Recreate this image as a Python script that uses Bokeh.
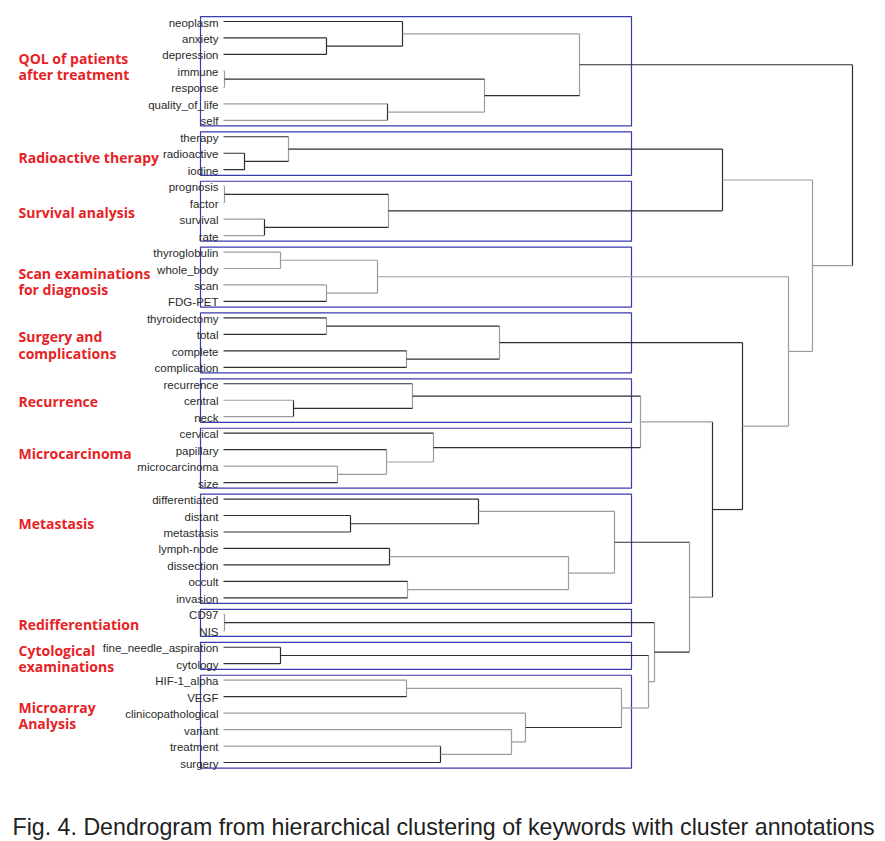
from bokeh.plotting import figure
from bokeh.models import Range1d, ColumnDataSource, Label
from bokeh.core.properties import value
from bokeh.embed import file_html
from bokeh.resources import INLINE

# ---------------- data ----------------
leaves = ["neoplasm", "anxiety", "depression", "immune", "response", "quality_of_life", "self",
          "therapy", "radioactive", "iodine",
          "prognosis", "factor", "survival", "rate",
          "thyroglobulin", "whole_body", "scan", "FDG-PET",
          "thyroidectomy", "total", "complete", "complication",
          "recurrence", "central", "neck",
          "cervical", "papillary", "microcarcinoma", "size",
          "differentiated", "distant", "metastasis", "lymph-node", "dissection", "occult", "invasion",
          "CD97", "NIS",
          "fine_needle_aspiration", "cytology",
          "HIF-1_alpha", "VEGF", "clinicopathological", "variant", "treatment", "surgery"]

# hclust-style merge table: negative = leaf (1-based), positive = earlier merge (1-based)
merge_left = [-2, -1, -4, -6, 3, 2, -9, -8, -11, -13, 9, 8, -15, -17, 13, -19, -21, 16,
              -24, -23, -28, -27, -26, 20, -31, -30, -33, -35, 27, 26, -37, -39, -41, -45,
              -44, -43, 33, 32, 31, 30, 24, 18, 15, 12, 6]
merge_right = [-3, 1, -5, -7, 4, 5, -10, 7, -12, -14, 10, 11, -16, -18, 14, -20, -22, 17,
               -25, 19, -29, 21, 22, 23, -32, 25, -34, -36, 28, 29, -38, -40, -42, -46,
               34, 35, 36, 37, 38, 39, 40, 41, 42, 43, 44]
merge_height = [103, 179, 1, 164, 261, 356, 21, 65, 1, 41, 165, 499, 57, 103, 154, 103, 183, 276,
                70, 189, 114, 163, 210, 417, 127, 255, 166, 184, 345, 391, 1, 57, 183, 217,
                288, 302, 398, 425, 431, 466, 489, 519, 565, 589, 629]

cluster_names = ["QOL of patients\nafter treatment", "Radioactive therapy", "Survival analysis",
                 "Scan examinations\nfor diagnosis", "Surgery and\ncomplications", "Recurrence",
                 "Microcarcinoma", "Metastasis", "Redifferentiation",
                 "Cytological\nexaminations", "Microarray\nAnalysis"]
cluster_first = [0, 7, 10, 14, 18, 22, 25, 29, 36, 38, 40]
cluster_last = [6, 9, 13, 17, 21, 24, 28, 35, 37, 39, 45]

caption = "Fig. 4. Dendrogram from hierarchical clustering of keywords with cluster annotations"

# ---------------- style ----------------
DARK = "#2e2e2e"
LIGHT = "#9c9c9c"
light_links = {-4, -5, -6, -7, -11, -12, -13, -14, -15, -16, -17, -24, -25, -28, -37, -38,
               -41, -43, -44, -45, 2, 4, 12, 13, 14, 15, 21, 22, 24, 26, 27, 28, 29, 33,
               34, 35, 37, 38, 40, 42, 43, 44}
light_joins = {3, 5, 6, 8, 9, 11, 13, 14, 15, 16, 17, 18, 20, 21, 22, 23, 24, 28, 29, 30,
               31, 33, 35, 36, 37, 38, 39, 40, 43, 44}
label_rows = [2.73, 8.26, 11.6, 15.79, 19.65, 23.08, 26.23, 30.49, 36.62, 38.68, 42.14]

# ---------------- layout of the tree ----------------
ypos, hgt = {}, {}
for i in range(len(leaves)):
    ypos[-(i + 1)] = float(i)
    hgt[-(i + 1)] = 0.0

x0s, x1s, y0s, y1s, cols = [], [], [], [], []
for k, (a, b, h) in enumerate(zip(merge_left, merge_right, merge_height), start=1):
    ypos[k] = (ypos[a] + ypos[b]) / 2.0
    hgt[k] = h
    # vertical join
    x0s.append(h); x1s.append(h); y0s.append(ypos[a]); y1s.append(ypos[b])
    cols.append(LIGHT if k in light_joins else DARK)
    # horizontal links to children
    for c in (a, b):
        x0s.append(hgt[c]); x1s.append(h); y0s.append(ypos[c]); y1s.append(ypos[c])
        cols.append(LIGHT if c in light_links else DARK)

seg_src = ColumnDataSource(dict(x0=x0s, x1=x1s, y0=y0s, y1=y1s, color=cols))

W, H = 885, 841
ROW = 16.467
y_top = -21 / ROW
p = figure(width=W, height=H, x_range=Range1d(-223, -223 + W),
           y_range=Range1d(y_top + H / ROW, y_top),
           output_backend="svg", toolbar_location=None, min_border=0,
           x_axis_location=None, y_axis_location=None)
p.grid.visible = False
p.outline_line_color = None
p.background_fill_color = "white"

# cluster boxes
box_src = ColumnDataSource(dict(
    left=[-23] * len(cluster_first), right=[408] * len(cluster_first),
    top=[f - 0.3 for f in cluster_first], bottom=[l + 0.34 for l in cluster_last]))
p.quad(left="left", right="right", top="top", bottom="bottom", source=box_src,
       fill_color=None, line_color="#3b3bb0", line_width=1.2)

# dendrogram
p.segment(x0="x0", y0="y0", x1="x1", y1="y1", color="color", line_width=1.2, source=seg_src)

# leaf labels
lab_src = ColumnDataSource(dict(x=[0] * len(leaves), y=list(range(len(leaves))), t=leaves))
p.text(x="x", y="y", text="t", source=lab_src, x_offset=-5, y_offset=1,
       text_align="right", text_baseline="middle", text_font=value("Liberation Sans"),
       text_font_size="11.5px", text_color="#2a2a2a")

# cluster annotations
ann_src = ColumnDataSource(dict(x=[-205] * len(cluster_names), y=label_rows, t=cluster_names))
p.text(x="x", y="y", text="t", source=ann_src, text_align="left", text_baseline="middle",
       text_font=value("Open Sans"), text_font_style="bold", text_font_size="14px",
       text_line_height=0.88, text_color="#e62226")

# caption
p.add_layout(Label(x=12, y=15, x_units="screen", y_units="screen", text=caption,
                   text_font="Liberation Sans", text_font_size="23.2px", text_color="#222222",
                   text_baseline="middle", text_align="left"))

open("out.html", "w").write(file_html(p, INLINE))
